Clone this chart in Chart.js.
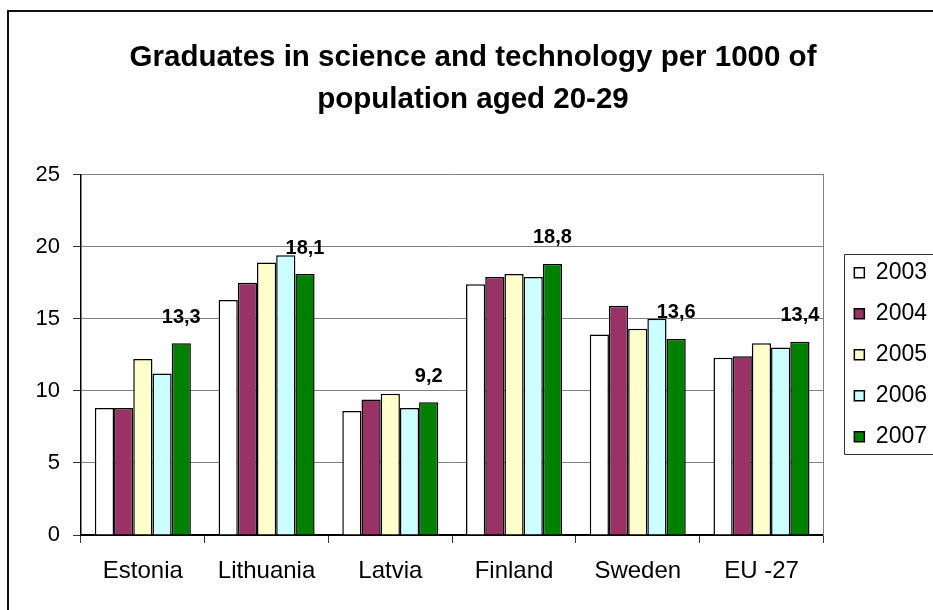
<!DOCTYPE html>
<html>
<head>
<meta charset="utf-8">
<script src="https://cdn.jsdelivr.net/npm/chart.js@4.4.1/dist/chart.umd.min.js"></script>
<style>
    html, body {
        margin: 0;
        padding: 0;
        background: #fff;
        overflow: hidden;
    }
    #frame {
        position: absolute;
        left: 7px;
        top: 10px;
        width: 980px;
        height: 660px;
        border: 2px solid #111;
    }
    #chartBox {
        position: relative;
        width: 955px;
        height: 640px;
    }
</style>
</head>
<body>
<div id="frame">
    <div id="chartBox">
        <canvas id="graduates"></canvas>
    </div>
</div>

<script>
//// data
const countries = ["Estonia", "Lithuania", "Latvia", "Finland", "Sweden", "EU -27"]
const years = ["2003", "2004", "2005", "2006", "2007"]

const values2003 = [8.8, 16.3, 8.6, 17.4, 13.9, 12.3]
const values2004 = [8.8, 17.5, 9.4, 17.9, 15.9, 12.4]
const values2005 = [12.2, 18.9, 9.8, 18.1, 14.3, 13.3]
const values2006 = [11.2, 19.4, 8.8, 17.9, 15.0, 13.0]
const values2007 = [13.3, 18.1, 9.2, 18.8, 13.6, 13.4]

const yearColors = ['#ffffff', '#993366', '#ffffcc', '#ccffff', '#008000']


//// DOM
const graduatesChartElement = document.querySelector("#graduates")

Chart.defaults.font.family = "'Liberation Sans', Arial, Helvetica, sans-serif"
Chart.defaults.color = '#000'


//// plugins

// numbers above the 2007 bars, with a decimal comma
const lastYearLabels = {
    id: 'lastYearLabels',
    afterDatasetsDraw(chart) {
        const last = chart.data.datasets.length - 1
        const meta = chart.getDatasetMeta(last)
        const ctx = chart.ctx
        ctx.save()
        ctx.font = "bold 20px 'Liberation Sans', Arial, sans-serif"
        ctx.fillStyle = '#000'
        ctx.textAlign = 'center'
        ctx.textBaseline = 'middle'
        meta.data.forEach((bar, i) => {
            const v = chart.data.datasets[last].data[i]
            ctx.fillText(v.toFixed(1).replace('.', ','), bar.x, bar.y - 26)
        })
        ctx.restore()
    }
}

// thin frame around the legend items: left side, and top/bottom running on to the right
const legendFrame = {
    id: 'legendFrame',
    afterDraw(chart) {
        const boxes = chart.legend && chart.legend.legendHitBoxes
        if (!boxes || !boxes.length) return
        const left = Math.round(Math.min(...boxes.map(b => b.left)) - 10) + 0.5
        const top = Math.round(Math.min(...boxes.map(b => b.top)) - 7) + 0.5
        const bottom = Math.round(Math.max(...boxes.map(b => b.top + b.height)) + 6) + 0.5
        const far = left + 110
        const ctx = chart.ctx
        ctx.save()
        ctx.strokeStyle = '#333'
        ctx.lineWidth = 1
        ctx.beginPath()
        ctx.moveTo(left, top)
        ctx.lineTo(far, top)
        ctx.moveTo(left, top)
        ctx.lineTo(left, bottom)
        ctx.moveTo(left, bottom)
        ctx.lineTo(far, bottom)
        ctx.stroke()
        ctx.restore()
    }
}


//// charts
const seriesValues = [values2003, values2004, values2005, values2006, values2007]

let graduatesChart = new Chart(graduatesChartElement, {
    type: 'bar',
    data: {
        labels: countries,
        datasets: years.map((year, i) => ({
            label: year,
            data: seriesValues[i],
            backgroundColor: yearColors[i],
            borderColor: '#000',
            borderWidth: 1.5,
            categoryPercentage: 0.776,
            barPercentage: 1.0
        }))
    },
    options: {
        responsive: true,
        maintainAspectRatio: false,
        animation: false,
        layout: {
            padding: { top: 0, left: 0, right: 27, bottom: 37 }
        },
        scales: {
            x: {
                grid: {
                    display: true,
                    drawOnChartArea: false,
                    offset: true,
                    tickLength: 8,
                    tickColor: '#333'
                },
                border: { color: '#000', width: 2 },
                ticks: {
                    font: { size: 24 },
                    padding: 14
                },
                afterFit: (scale) => { scale.height = 80 }
            },
            y: {
                min: 0,
                max: 25,
                ticks: {
                    stepSize: 5,
                    font: { size: 22 },
                    padding: 13
                },
                grid: {
                    color: '#808080',
                    tickLength: 8,
                    tickColor: '#333'
                },
                border: { color: '#000', width: 1.5 },
                afterFit: (scale) => { scale.width = 72 }
            },
            // right edge of the plot, also keeps a gap before the legend
            edge: {
                type: 'linear',
                position: 'right',
                grid: { display: false },
                ticks: { display: false },
                border: { display: true, color: '#808080', width: 1 },
                afterFit: (scale) => { scale.width = 13 }
            }
        },
        plugins: {
            title: {
                display: true,
                text: ['Graduates in science and technology per 1000 of', 'population aged 20-29'],
                font: { size: 29.5, weight: 'bold', lineHeight: 1.45 },
                color: '#000',
                padding: { top: 24, bottom: 53 }
            },
            legend: {
                display: true,
                position: 'right',
                fullSize: false,
                labels: {
                    boxWidth: 10,
                    boxHeight: 10,
                    padding: 18,
                    font: { size: 23 },
                    color: '#000'
                }
            },
            tooltip: { enabled: false }
        }
    },
    plugins: [lastYearLabels, legendFrame]
});

graduatesChart.update()
</script>
</body>
</html>
